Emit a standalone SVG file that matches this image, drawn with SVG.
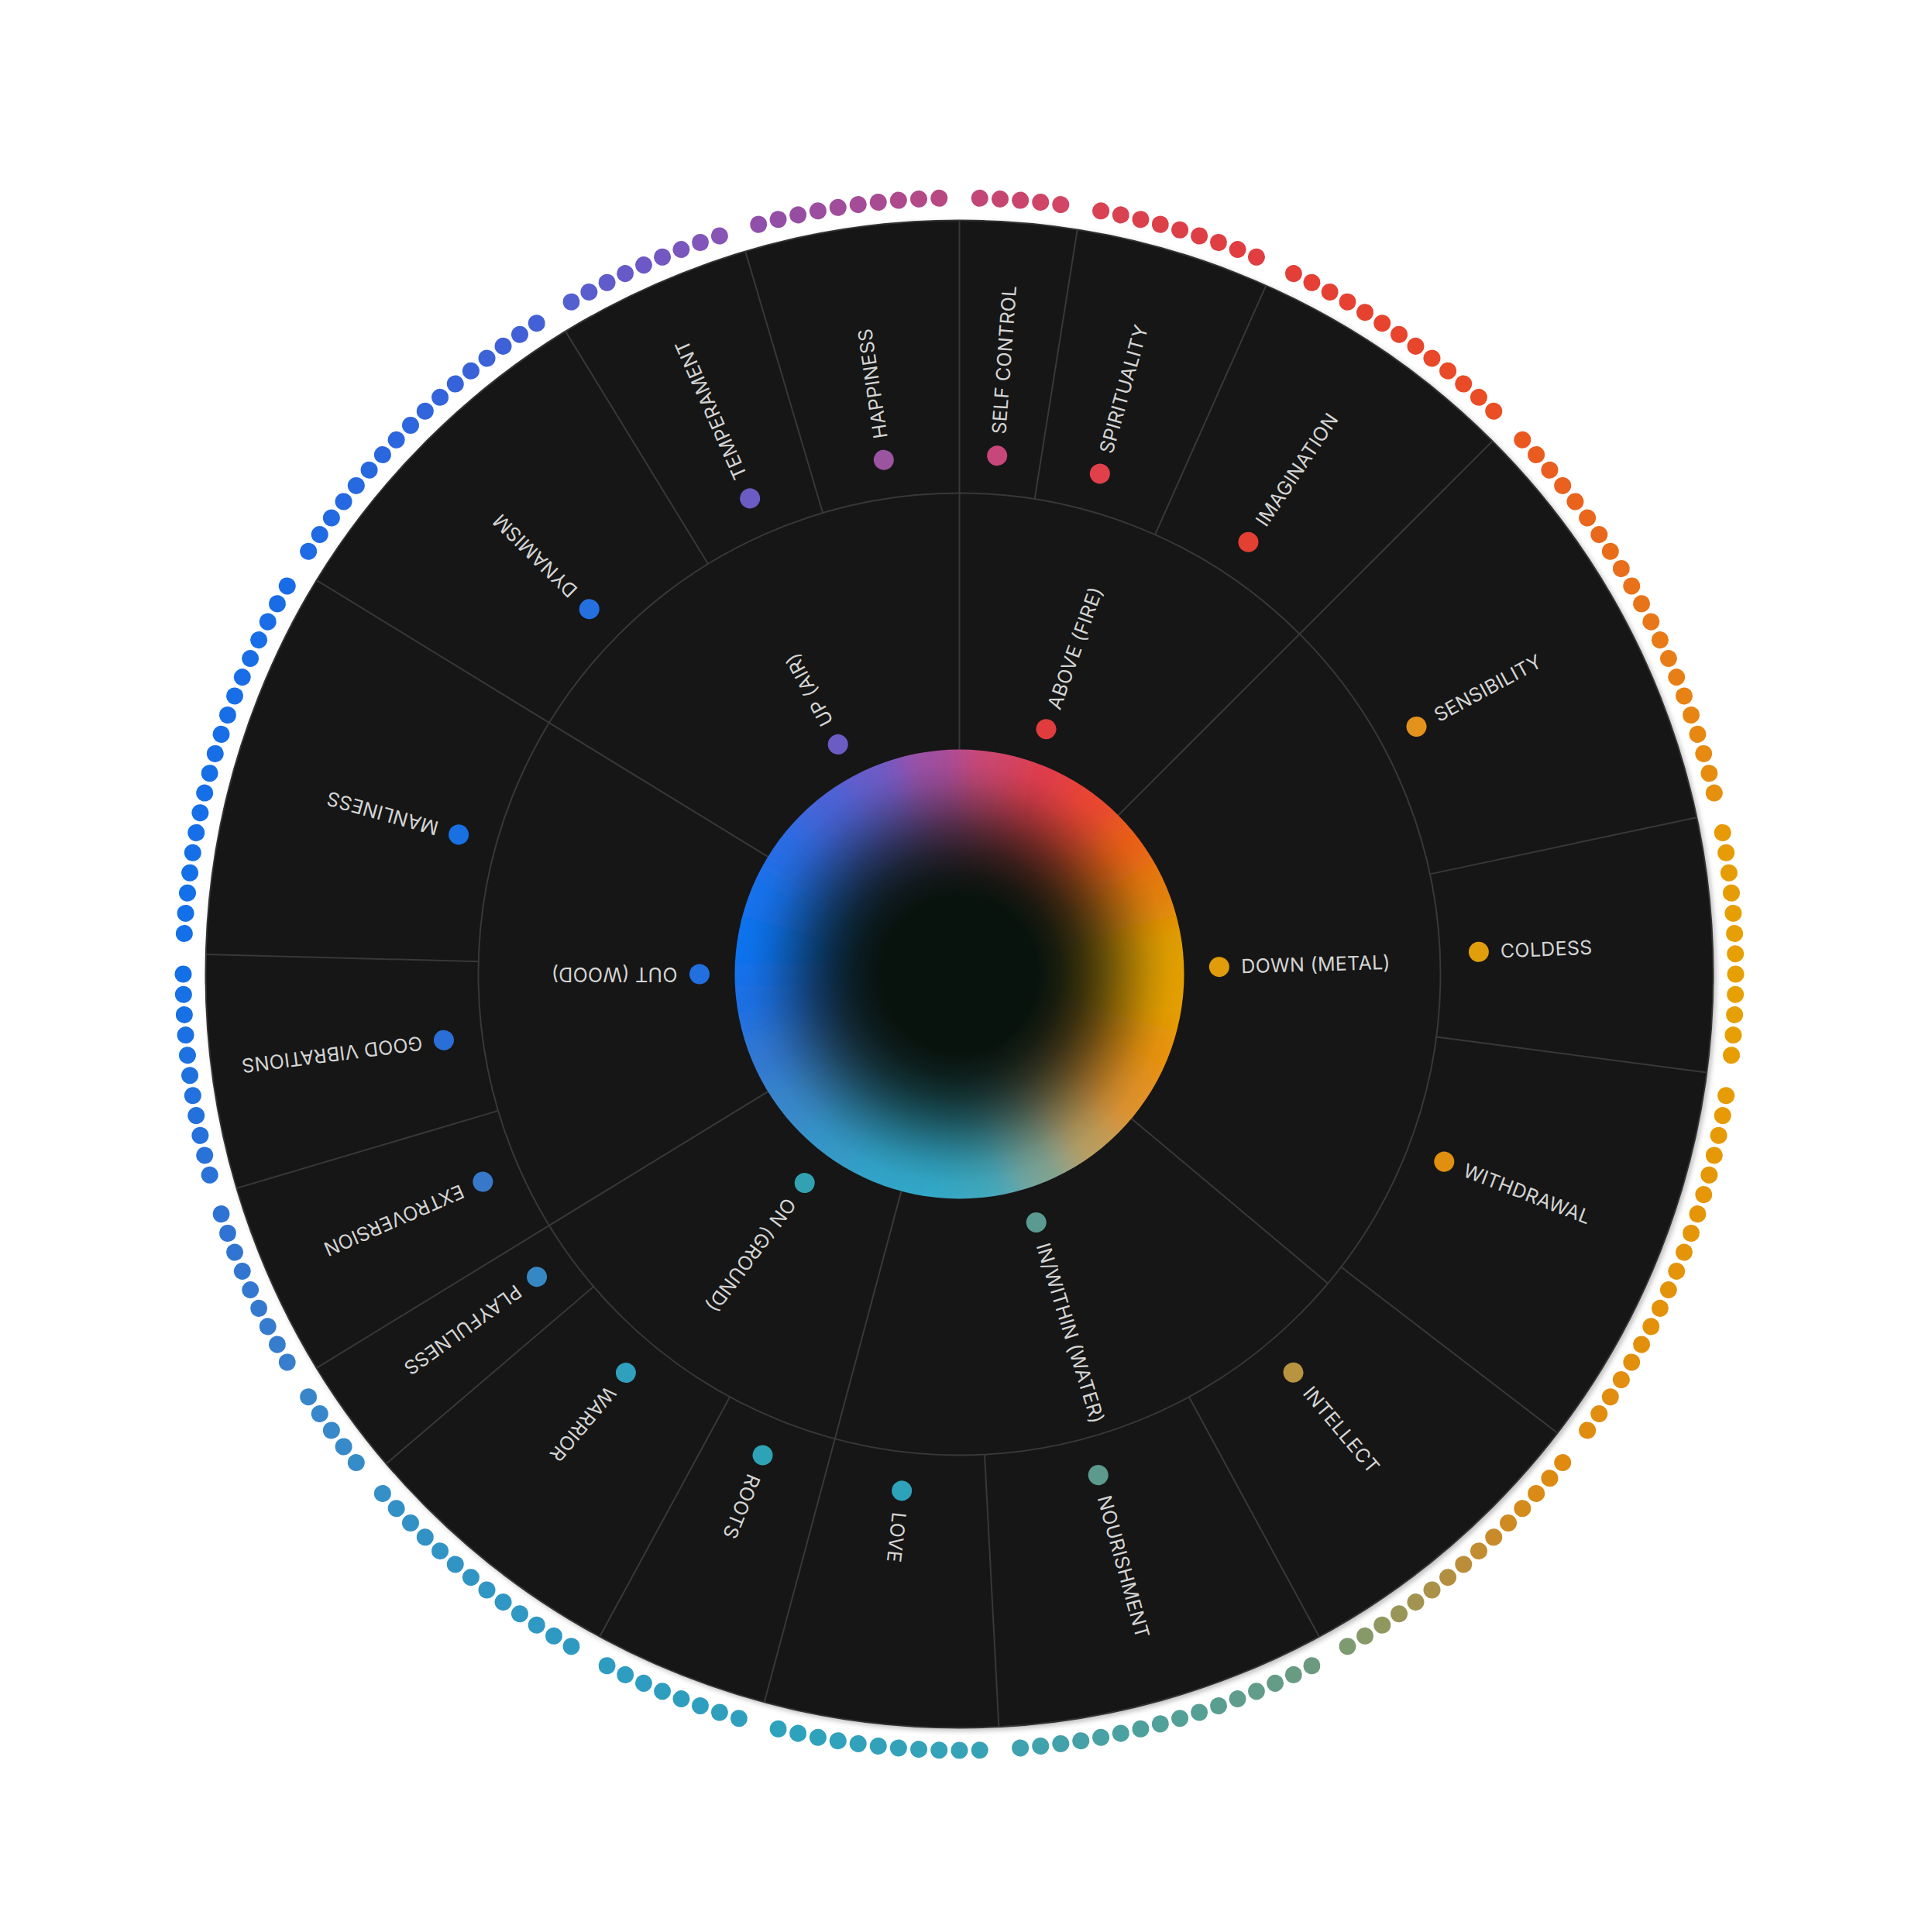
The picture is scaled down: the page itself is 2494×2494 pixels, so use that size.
<svg xmlns="http://www.w3.org/2000/svg" width="2494" height="2494" viewBox="0 0 2494 2494">
<style>
.lbl{font-family:Inter,"Liberation Sans",sans-serif;font-size:25px;fill:#d4d4d4;letter-spacing:0.3px}
.dv{stroke:#383838;stroke-width:2;fill:none}
</style>
<defs>
<circle id="dt" cx="1238.5" cy="255.5" r="11"/>
<clipPath id="sc"><circle cx="1238.5" cy="1257.5" r="290"/></clipPath>
<filter id="bl" x="-20%" y="-20%" width="140%" height="140%"><feGaussianBlur stdDeviation="22"/></filter>
<filter id="sh" x="-5%" y="-5%" width="110%" height="110%"><feDropShadow dx="3" dy="3" stdDeviation="3" flood-color="#000" flood-opacity="0.25"/></filter>
<radialGradient id="dark" cx="0.5" cy="0.5" r="0.5">
<stop offset="0" stop-color="#09130e" stop-opacity="1"/>
<stop offset="0.35" stop-color="#09130e" stop-opacity="1"/>
<stop offset="0.45" stop-color="#09130e" stop-opacity="0.92"/>
<stop offset="0.55" stop-color="#09130e" stop-opacity="0.78"/>
<stop offset="0.65" stop-color="#09130e" stop-opacity="0.58"/>
<stop offset="0.75" stop-color="#09130e" stop-opacity="0.35"/>
<stop offset="0.85" stop-color="#09130e" stop-opacity="0.14"/>
<stop offset="0.93" stop-color="#09130e" stop-opacity="0.03"/>
<stop offset="1" stop-color="#09130e" stop-opacity="0"/>
</radialGradient>
</defs>
<rect width="2494" height="2494" fill="#ffffff"/>

<g id="sunburst-base">
<circle cx="1238.5" cy="1257.5" r="973" fill="#141414" stroke="#333333" stroke-width="2" filter="url(#sh)"/>
<circle cx="1238.5" cy="1257.5" r="621" class="dv"/>
</g>

<g id="connectors" class="dv">
<line x1="1238.5" y1="967.5" x2="1238.5" y2="284.5" transform="rotate(0 1238.5 1257.5)"/>
<line x1="1238.5" y1="967.5" x2="1238.5" y2="284.5" transform="rotate(45 1238.5 1257.5)"/>
<line x1="1238.5" y1="967.5" x2="1238.5" y2="284.5" transform="rotate(195 1238.5 1257.5)"/>
<line x1="1238.5" y1="967.5" x2="1238.5" y2="284.5" transform="rotate(238.5 1238.5 1257.5)"/>
<line x1="1238.5" y1="967.5" x2="1238.5" y2="284.5" transform="rotate(301.5 1238.5 1257.5)"/>
<line x1="1238.5" y1="967.5" x2="1238.5" y2="636.5" transform="rotate(130 1238.5 1257.5)"/>
<line x1="1238.5" y1="636.5" x2="1238.5" y2="284.5" transform="rotate(9 1238.5 1257.5)"/>
<line x1="1238.5" y1="636.5" x2="1238.5" y2="284.5" transform="rotate(24 1238.5 1257.5)"/>
<line x1="1238.5" y1="636.5" x2="1238.5" y2="284.5" transform="rotate(78 1238.5 1257.5)"/>
<line x1="1238.5" y1="636.5" x2="1238.5" y2="284.5" transform="rotate(97.5 1238.5 1257.5)"/>
<line x1="1238.5" y1="636.5" x2="1238.5" y2="284.5" transform="rotate(127.5 1238.5 1257.5)"/>
<line x1="1238.5" y1="636.5" x2="1238.5" y2="284.5" transform="rotate(151.5 1238.5 1257.5)"/>
<line x1="1238.5" y1="636.5" x2="1238.5" y2="284.5" transform="rotate(177 1238.5 1257.5)"/>
<line x1="1238.5" y1="636.5" x2="1238.5" y2="284.5" transform="rotate(208.5 1238.5 1257.5)"/>
<line x1="1238.5" y1="636.5" x2="1238.5" y2="284.5" transform="rotate(229.5 1238.5 1257.5)"/>
<line x1="1238.5" y1="636.5" x2="1238.5" y2="284.5" transform="rotate(253.5 1238.5 1257.5)"/>
<line x1="1238.5" y1="636.5" x2="1238.5" y2="284.5" transform="rotate(271.5 1238.5 1257.5)"/>
<line x1="1238.5" y1="636.5" x2="1238.5" y2="284.5" transform="rotate(328.5 1238.5 1257.5)"/>
<line x1="1238.5" y1="636.5" x2="1238.5" y2="284.5" transform="rotate(343.5 1238.5 1257.5)"/>
</g>

<g id="sphere">
<g clip-path="url(#sc)">
<g filter="url(#bl)" transform="translate(1238.5 1257.5)" stroke-width="3" stroke-linejoin="round">
<polygon points="0,0 0,-420 108.7,-405.7" fill="#cc4670" stroke="#cc4670"/>
<polygon points="0,0 108.7,-405.7 210,-363.7" fill="#e03e4c" stroke="#e03e4c"/>
<polygon points="0,0 210,-363.7 297,-297" fill="#ea4430" stroke="#ea4430"/>
<polygon points="0,0 297,-297 363.7,-210" fill="#ea5e18" stroke="#ea5e18"/>
<polygon points="0,0 363.7,-210 405.7,-108.7" fill="#e47e08" stroke="#e47e08"/>
<polygon points="0,0 405.7,-108.7 420,0" fill="#e09e00" stroke="#e09e00"/>
<polygon points="0,0 420,0 405.7,108.7" fill="#e4a000" stroke="#e4a000"/>
<polygon points="0,0 405.7,108.7 363.7,210" fill="#e89208" stroke="#e89208"/>
<polygon points="0,0 363.7,210 297,297" fill="#e0922a" stroke="#e0922a"/>
<polygon points="0,0 297,297 210,363.7" fill="#bc9e5c" stroke="#bc9e5c"/>
<polygon points="0,0 210,363.7 108.7,405.7" fill="#7ca494" stroke="#7ca494"/>
<polygon points="0,0 108.7,405.7 0,420" fill="#40a8bc" stroke="#40a8bc"/>
<polygon points="0,0 0,420 -108.7,405.7" fill="#30a8c8" stroke="#30a8c8"/>
<polygon points="0,0 -108.7,405.7 -210,363.7" fill="#30a4c8" stroke="#30a4c8"/>
<polygon points="0,0 -210,363.7 -297,297" fill="#3498c8" stroke="#3498c8"/>
<polygon points="0,0 -297,297 -363.7,210" fill="#3888ca" stroke="#3888ca"/>
<polygon points="0,0 -363.7,210 -405.7,108.7" fill="#3278d2" stroke="#3278d2"/>
<polygon points="0,0 -405.7,108.7 -420,0" fill="#1a70e4" stroke="#1a70e4"/>
<polygon points="0,0 -420,0 -405.7,-108.7" fill="#0a73f0" stroke="#0a73f0"/>
<polygon points="0,0 -405.7,-108.7 -363.7,-210" fill="#1272ec" stroke="#1272ec"/>
<polygon points="0,0 -363.7,-210 -297,-297" fill="#2a6ce4" stroke="#2a6ce4"/>
<polygon points="0,0 -297,-297 -210,-363.7" fill="#4864d8" stroke="#4864d8"/>
<polygon points="0,0 -210,-363.7 -108.7,-405.7" fill="#6a5cc8" stroke="#6a5cc8"/>
<polygon points="0,0 -108.7,-405.7 0,-420" fill="#a050a0" stroke="#a050a0"/>
</g>
<circle cx="1238.5" cy="1257.5" r="290" fill="url(#dark)"/>
</g>
</g>

<g id="ring-dots">
<use href="#dt" transform="rotate(1.5 1238.5 1257.5)" fill="#c24678"/>
<use href="#dt" transform="rotate(3 1238.5 1257.5)" fill="#c64672"/>
<use href="#dt" transform="rotate(4.5 1238.5 1257.5)" fill="#ca456c"/>
<use href="#dt" transform="rotate(6 1238.5 1257.5)" fill="#ce4568"/>
<use href="#dt" transform="rotate(7.5 1238.5 1257.5)" fill="#d24564"/>
<use href="#dt" transform="rotate(10.5 1238.5 1257.5)" fill="#d84252"/>
<use href="#dt" transform="rotate(12 1238.5 1257.5)" fill="#d94250"/>
<use href="#dt" transform="rotate(13.5 1238.5 1257.5)" fill="#db414c"/>
<use href="#dt" transform="rotate(15 1238.5 1257.5)" fill="#dc4048"/>
<use href="#dt" transform="rotate(16.5 1238.5 1257.5)" fill="#dd3f46"/>
<use href="#dt" transform="rotate(18 1238.5 1257.5)" fill="#de3f44"/>
<use href="#dt" transform="rotate(19.5 1238.5 1257.5)" fill="#df3e42"/>
<use href="#dt" transform="rotate(21 1238.5 1257.5)" fill="#e03e41"/>
<use href="#dt" transform="rotate(22.5 1238.5 1257.5)" fill="#e03e40"/>
<use href="#dt" transform="rotate(25.5 1238.5 1257.5)" fill="#e43e38"/>
<use href="#dt" transform="rotate(27 1238.5 1257.5)" fill="#e53f36"/>
<use href="#dt" transform="rotate(28.5 1238.5 1257.5)" fill="#e54034"/>
<use href="#dt" transform="rotate(30 1238.5 1257.5)" fill="#e64132"/>
<use href="#dt" transform="rotate(31.5 1238.5 1257.5)" fill="#e64230"/>
<use href="#dt" transform="rotate(33 1238.5 1257.5)" fill="#e7432f"/>
<use href="#dt" transform="rotate(34.5 1238.5 1257.5)" fill="#e8442e"/>
<use href="#dt" transform="rotate(36 1238.5 1257.5)" fill="#e8462c"/>
<use href="#dt" transform="rotate(37.5 1238.5 1257.5)" fill="#e9482a"/>
<use href="#dt" transform="rotate(39 1238.5 1257.5)" fill="#e94a28"/>
<use href="#dt" transform="rotate(40.5 1238.5 1257.5)" fill="#e94b27"/>
<use href="#dt" transform="rotate(42 1238.5 1257.5)" fill="#ea4d25"/>
<use href="#dt" transform="rotate(43.5 1238.5 1257.5)" fill="#ea4e24"/>
<use href="#dt" transform="rotate(46.5 1238.5 1257.5)" fill="#ea5820"/>
<use href="#dt" transform="rotate(48 1238.5 1257.5)" fill="#ea5b1f"/>
<use href="#dt" transform="rotate(49.5 1238.5 1257.5)" fill="#ea5e1f"/>
<use href="#dt" transform="rotate(51 1238.5 1257.5)" fill="#ea601e"/>
<use href="#dt" transform="rotate(52.5 1238.5 1257.5)" fill="#ea631d"/>
<use href="#dt" transform="rotate(54 1238.5 1257.5)" fill="#e9661c"/>
<use href="#dt" transform="rotate(55.5 1238.5 1257.5)" fill="#e9691c"/>
<use href="#dt" transform="rotate(57 1238.5 1257.5)" fill="#e96c1b"/>
<use href="#dt" transform="rotate(58.5 1238.5 1257.5)" fill="#e96e1b"/>
<use href="#dt" transform="rotate(60 1238.5 1257.5)" fill="#e9711a"/>
<use href="#dt" transform="rotate(61.5 1238.5 1257.5)" fill="#e8741a"/>
<use href="#dt" transform="rotate(63 1238.5 1257.5)" fill="#e87719"/>
<use href="#dt" transform="rotate(64.5 1238.5 1257.5)" fill="#e87a18"/>
<use href="#dt" transform="rotate(66 1238.5 1257.5)" fill="#e87c17"/>
<use href="#dt" transform="rotate(67.5 1238.5 1257.5)" fill="#e87f16"/>
<use href="#dt" transform="rotate(69 1238.5 1257.5)" fill="#e78215"/>
<use href="#dt" transform="rotate(70.5 1238.5 1257.5)" fill="#e78514"/>
<use href="#dt" transform="rotate(72 1238.5 1257.5)" fill="#e78813"/>
<use href="#dt" transform="rotate(73.5 1238.5 1257.5)" fill="#e78a12"/>
<use href="#dt" transform="rotate(75 1238.5 1257.5)" fill="#e68d10"/>
<use href="#dt" transform="rotate(76.5 1238.5 1257.5)" fill="#e6900e"/>
<use href="#dt" transform="rotate(79.5 1238.5 1257.5)" fill="#e69a08"/>
<use href="#dt" transform="rotate(81 1238.5 1257.5)" fill="#e69b07"/>
<use href="#dt" transform="rotate(82.5 1238.5 1257.5)" fill="#e69c06"/>
<use href="#dt" transform="rotate(84 1238.5 1257.5)" fill="#e69d05"/>
<use href="#dt" transform="rotate(85.5 1238.5 1257.5)" fill="#e69e05"/>
<use href="#dt" transform="rotate(87 1238.5 1257.5)" fill="#e69f04"/>
<use href="#dt" transform="rotate(88.5 1238.5 1257.5)" fill="#e6a004"/>
<use href="#dt" transform="rotate(90 1238.5 1257.5)" fill="#e6a004"/>
<use href="#dt" transform="rotate(91.5 1238.5 1257.5)" fill="#e6a004"/>
<use href="#dt" transform="rotate(93 1238.5 1257.5)" fill="#e69f04"/>
<use href="#dt" transform="rotate(94.5 1238.5 1257.5)" fill="#e69f04"/>
<use href="#dt" transform="rotate(96 1238.5 1257.5)" fill="#e69e04"/>
<use href="#dt" transform="rotate(99 1238.5 1257.5)" fill="#e69c06"/>
<use href="#dt" transform="rotate(100.5 1238.5 1257.5)" fill="#e69b06"/>
<use href="#dt" transform="rotate(102 1238.5 1257.5)" fill="#e69a06"/>
<use href="#dt" transform="rotate(103.5 1238.5 1257.5)" fill="#e59906"/>
<use href="#dt" transform="rotate(105 1238.5 1257.5)" fill="#e59807"/>
<use href="#dt" transform="rotate(106.5 1238.5 1257.5)" fill="#e59707"/>
<use href="#dt" transform="rotate(108 1238.5 1257.5)" fill="#e59607"/>
<use href="#dt" transform="rotate(109.5 1238.5 1257.5)" fill="#e59508"/>
<use href="#dt" transform="rotate(111 1238.5 1257.5)" fill="#e49408"/>
<use href="#dt" transform="rotate(112.5 1238.5 1257.5)" fill="#e49408"/>
<use href="#dt" transform="rotate(114 1238.5 1257.5)" fill="#e39309"/>
<use href="#dt" transform="rotate(115.5 1238.5 1257.5)" fill="#e3920a"/>
<use href="#dt" transform="rotate(117 1238.5 1257.5)" fill="#e3910b"/>
<use href="#dt" transform="rotate(118.5 1238.5 1257.5)" fill="#e2900c"/>
<use href="#dt" transform="rotate(120 1238.5 1257.5)" fill="#e28f0d"/>
<use href="#dt" transform="rotate(121.5 1238.5 1257.5)" fill="#e28e0e"/>
<use href="#dt" transform="rotate(123 1238.5 1257.5)" fill="#e18d0f"/>
<use href="#dt" transform="rotate(124.5 1238.5 1257.5)" fill="#e18d0f"/>
<use href="#dt" transform="rotate(126 1238.5 1257.5)" fill="#e08c10"/>
<use href="#dt" transform="rotate(129 1238.5 1257.5)" fill="#e08a10"/>
<use href="#dt" transform="rotate(130.5 1238.5 1257.5)" fill="#dd8a13"/>
<use href="#dt" transform="rotate(132 1238.5 1257.5)" fill="#da8a16"/>
<use href="#dt" transform="rotate(133.5 1238.5 1257.5)" fill="#d58a1c"/>
<use href="#dt" transform="rotate(135 1238.5 1257.5)" fill="#d08a22"/>
<use href="#dt" transform="rotate(136.5 1238.5 1257.5)" fill="#c98b29"/>
<use href="#dt" transform="rotate(138 1238.5 1257.5)" fill="#c28c30"/>
<use href="#dt" transform="rotate(139.5 1238.5 1257.5)" fill="#ba8e38"/>
<use href="#dt" transform="rotate(141 1238.5 1257.5)" fill="#b28f40"/>
<use href="#dt" transform="rotate(142.5 1238.5 1257.5)" fill="#aa9248"/>
<use href="#dt" transform="rotate(144 1238.5 1257.5)" fill="#a29450"/>
<use href="#dt" transform="rotate(145.5 1238.5 1257.5)" fill="#999658"/>
<use href="#dt" transform="rotate(147 1238.5 1257.5)" fill="#909860"/>
<use href="#dt" transform="rotate(148.5 1238.5 1257.5)" fill="#879968"/>
<use href="#dt" transform="rotate(150 1238.5 1257.5)" fill="#7e9a70"/>
<use href="#dt" transform="rotate(153 1238.5 1257.5)" fill="#6c9a80"/>
<use href="#dt" transform="rotate(154.5 1238.5 1257.5)" fill="#699b83"/>
<use href="#dt" transform="rotate(156 1238.5 1257.5)" fill="#659c87"/>
<use href="#dt" transform="rotate(157.5 1238.5 1257.5)" fill="#619d8a"/>
<use href="#dt" transform="rotate(159 1238.5 1257.5)" fill="#5e9d8d"/>
<use href="#dt" transform="rotate(160.5 1238.5 1257.5)" fill="#5a9e90"/>
<use href="#dt" transform="rotate(162 1238.5 1257.5)" fill="#569f94"/>
<use href="#dt" transform="rotate(163.5 1238.5 1257.5)" fill="#53a097"/>
<use href="#dt" transform="rotate(165 1238.5 1257.5)" fill="#51a099"/>
<use href="#dt" transform="rotate(166.5 1238.5 1257.5)" fill="#4ea09d"/>
<use href="#dt" transform="rotate(168 1238.5 1257.5)" fill="#4ba1a0"/>
<use href="#dt" transform="rotate(169.5 1238.5 1257.5)" fill="#48a1a4"/>
<use href="#dt" transform="rotate(171 1238.5 1257.5)" fill="#45a1a7"/>
<use href="#dt" transform="rotate(172.5 1238.5 1257.5)" fill="#43a1aa"/>
<use href="#dt" transform="rotate(174 1238.5 1257.5)" fill="#40a2ad"/>
<use href="#dt" transform="rotate(175.5 1238.5 1257.5)" fill="#3ea2b0"/>
<use href="#dt" transform="rotate(178.5 1238.5 1257.5)" fill="#36a2b6"/>
<use href="#dt" transform="rotate(180 1238.5 1257.5)" fill="#35a2b7"/>
<use href="#dt" transform="rotate(181.5 1238.5 1257.5)" fill="#34a2b8"/>
<use href="#dt" transform="rotate(183 1238.5 1257.5)" fill="#34a2b8"/>
<use href="#dt" transform="rotate(184.5 1238.5 1257.5)" fill="#33a2b9"/>
<use href="#dt" transform="rotate(186 1238.5 1257.5)" fill="#32a2ba"/>
<use href="#dt" transform="rotate(187.5 1238.5 1257.5)" fill="#31a2ba"/>
<use href="#dt" transform="rotate(189 1238.5 1257.5)" fill="#30a2bb"/>
<use href="#dt" transform="rotate(190.5 1238.5 1257.5)" fill="#2fa2bb"/>
<use href="#dt" transform="rotate(192 1238.5 1257.5)" fill="#2ea2bc"/>
<use href="#dt" transform="rotate(193.5 1238.5 1257.5)" fill="#2ea2bc"/>
<use href="#dt" transform="rotate(196.5 1238.5 1257.5)" fill="#2ea0be"/>
<use href="#dt" transform="rotate(198 1238.5 1257.5)" fill="#2ea0be"/>
<use href="#dt" transform="rotate(199.5 1238.5 1257.5)" fill="#2e9fbe"/>
<use href="#dt" transform="rotate(201 1238.5 1257.5)" fill="#2e9ebf"/>
<use href="#dt" transform="rotate(202.5 1238.5 1257.5)" fill="#2e9ebf"/>
<use href="#dt" transform="rotate(204 1238.5 1257.5)" fill="#2e9dc0"/>
<use href="#dt" transform="rotate(205.5 1238.5 1257.5)" fill="#2e9dc0"/>
<use href="#dt" transform="rotate(207 1238.5 1257.5)" fill="#2e9cc0"/>
<use href="#dt" transform="rotate(210 1238.5 1257.5)" fill="#2e9ac2"/>
<use href="#dt" transform="rotate(211.5 1238.5 1257.5)" fill="#2e99c2"/>
<use href="#dt" transform="rotate(213 1238.5 1257.5)" fill="#2f98c3"/>
<use href="#dt" transform="rotate(214.5 1238.5 1257.5)" fill="#2f98c3"/>
<use href="#dt" transform="rotate(216 1238.5 1257.5)" fill="#3097c4"/>
<use href="#dt" transform="rotate(217.5 1238.5 1257.5)" fill="#3096c4"/>
<use href="#dt" transform="rotate(219 1238.5 1257.5)" fill="#3195c4"/>
<use href="#dt" transform="rotate(220.5 1238.5 1257.5)" fill="#3194c5"/>
<use href="#dt" transform="rotate(222 1238.5 1257.5)" fill="#3293c5"/>
<use href="#dt" transform="rotate(223.5 1238.5 1257.5)" fill="#3292c5"/>
<use href="#dt" transform="rotate(225 1238.5 1257.5)" fill="#3391c6"/>
<use href="#dt" transform="rotate(226.5 1238.5 1257.5)" fill="#3390c6"/>
<use href="#dt" transform="rotate(228 1238.5 1257.5)" fill="#3490c6"/>
<use href="#dt" transform="rotate(231 1238.5 1257.5)" fill="#368cc8"/>
<use href="#dt" transform="rotate(232.5 1238.5 1257.5)" fill="#368ac9"/>
<use href="#dt" transform="rotate(234 1238.5 1257.5)" fill="#3789c9"/>
<use href="#dt" transform="rotate(235.5 1238.5 1257.5)" fill="#3787ca"/>
<use href="#dt" transform="rotate(237 1238.5 1257.5)" fill="#3886ca"/>
<use href="#dt" transform="rotate(240 1238.5 1257.5)" fill="#387ecc"/>
<use href="#dt" transform="rotate(241.5 1238.5 1257.5)" fill="#377dcd"/>
<use href="#dt" transform="rotate(243 1238.5 1257.5)" fill="#367bce"/>
<use href="#dt" transform="rotate(244.5 1238.5 1257.5)" fill="#3579cf"/>
<use href="#dt" transform="rotate(246 1238.5 1257.5)" fill="#3378d0"/>
<use href="#dt" transform="rotate(247.5 1238.5 1257.5)" fill="#3276d1"/>
<use href="#dt" transform="rotate(249 1238.5 1257.5)" fill="#3175d2"/>
<use href="#dt" transform="rotate(250.5 1238.5 1257.5)" fill="#3073d3"/>
<use href="#dt" transform="rotate(252 1238.5 1257.5)" fill="#2e72d4"/>
<use href="#dt" transform="rotate(255 1238.5 1257.5)" fill="#2a72d8"/>
<use href="#dt" transform="rotate(256.5 1238.5 1257.5)" fill="#2872d9"/>
<use href="#dt" transform="rotate(258 1238.5 1257.5)" fill="#2671db"/>
<use href="#dt" transform="rotate(259.5 1238.5 1257.5)" fill="#2471dc"/>
<use href="#dt" transform="rotate(261 1238.5 1257.5)" fill="#2271de"/>
<use href="#dt" transform="rotate(262.5 1238.5 1257.5)" fill="#1f71df"/>
<use href="#dt" transform="rotate(264 1238.5 1257.5)" fill="#1d71e1"/>
<use href="#dt" transform="rotate(265.5 1238.5 1257.5)" fill="#1b70e3"/>
<use href="#dt" transform="rotate(267 1238.5 1257.5)" fill="#1870e5"/>
<use href="#dt" transform="rotate(268.5 1238.5 1257.5)" fill="#1670e6"/>
<use href="#dt" transform="rotate(270 1238.5 1257.5)" fill="#1470e8"/>
<use href="#dt" transform="rotate(273 1238.5 1257.5)" fill="#1470e8"/>
<use href="#dt" transform="rotate(274.5 1238.5 1257.5)" fill="#1470e8"/>
<use href="#dt" transform="rotate(276 1238.5 1257.5)" fill="#1470e8"/>
<use href="#dt" transform="rotate(277.5 1238.5 1257.5)" fill="#1570e8"/>
<use href="#dt" transform="rotate(279 1238.5 1257.5)" fill="#1570e8"/>
<use href="#dt" transform="rotate(280.5 1238.5 1257.5)" fill="#166fe8"/>
<use href="#dt" transform="rotate(282 1238.5 1257.5)" fill="#166fe8"/>
<use href="#dt" transform="rotate(283.5 1238.5 1257.5)" fill="#166fe7"/>
<use href="#dt" transform="rotate(285 1238.5 1257.5)" fill="#176fe7"/>
<use href="#dt" transform="rotate(286.5 1238.5 1257.5)" fill="#176ee7"/>
<use href="#dt" transform="rotate(288 1238.5 1257.5)" fill="#186ee7"/>
<use href="#dt" transform="rotate(289.5 1238.5 1257.5)" fill="#186ee7"/>
<use href="#dt" transform="rotate(291 1238.5 1257.5)" fill="#186ee7"/>
<use href="#dt" transform="rotate(292.5 1238.5 1257.5)" fill="#196de6"/>
<use href="#dt" transform="rotate(294 1238.5 1257.5)" fill="#196de6"/>
<use href="#dt" transform="rotate(295.5 1238.5 1257.5)" fill="#196de6"/>
<use href="#dt" transform="rotate(297 1238.5 1257.5)" fill="#1a6de6"/>
<use href="#dt" transform="rotate(298.5 1238.5 1257.5)" fill="#1a6ce6"/>
<use href="#dt" transform="rotate(300 1238.5 1257.5)" fill="#1a6ce6"/>
<use href="#dt" transform="rotate(303 1238.5 1257.5)" fill="#1e6be4"/>
<use href="#dt" transform="rotate(304.5 1238.5 1257.5)" fill="#206ae3"/>
<use href="#dt" transform="rotate(306 1238.5 1257.5)" fill="#226ae2"/>
<use href="#dt" transform="rotate(307.5 1238.5 1257.5)" fill="#2469e1"/>
<use href="#dt" transform="rotate(309 1238.5 1257.5)" fill="#2669e0"/>
<use href="#dt" transform="rotate(310.5 1238.5 1257.5)" fill="#2868df"/>
<use href="#dt" transform="rotate(312 1238.5 1257.5)" fill="#2a67de"/>
<use href="#dt" transform="rotate(313.5 1238.5 1257.5)" fill="#2c66de"/>
<use href="#dt" transform="rotate(315 1238.5 1257.5)" fill="#2e66dd"/>
<use href="#dt" transform="rotate(316.5 1238.5 1257.5)" fill="#3165dc"/>
<use href="#dt" transform="rotate(318 1238.5 1257.5)" fill="#3364db"/>
<use href="#dt" transform="rotate(319.5 1238.5 1257.5)" fill="#3663da"/>
<use href="#dt" transform="rotate(321 1238.5 1257.5)" fill="#3962d9"/>
<use href="#dt" transform="rotate(322.5 1238.5 1257.5)" fill="#3c62d8"/>
<use href="#dt" transform="rotate(324 1238.5 1257.5)" fill="#3e61d7"/>
<use href="#dt" transform="rotate(325.5 1238.5 1257.5)" fill="#4160d7"/>
<use href="#dt" transform="rotate(327 1238.5 1257.5)" fill="#4460d6"/>
<use href="#dt" transform="rotate(330 1238.5 1257.5)" fill="#5460d0"/>
<use href="#dt" transform="rotate(331.5 1238.5 1257.5)" fill="#5a5ecd"/>
<use href="#dt" transform="rotate(333 1238.5 1257.5)" fill="#605ccb"/>
<use href="#dt" transform="rotate(334.5 1238.5 1257.5)" fill="#665ac8"/>
<use href="#dt" transform="rotate(336 1238.5 1257.5)" fill="#6c58c6"/>
<use href="#dt" transform="rotate(337.5 1238.5 1257.5)" fill="#7357c2"/>
<use href="#dt" transform="rotate(339 1238.5 1257.5)" fill="#7a56be"/>
<use href="#dt" transform="rotate(340.5 1238.5 1257.5)" fill="#8155ba"/>
<use href="#dt" transform="rotate(342 1238.5 1257.5)" fill="#8854b6"/>
<use href="#dt" transform="rotate(345 1238.5 1257.5)" fill="#9050aa"/>
<use href="#dt" transform="rotate(346.5 1238.5 1257.5)" fill="#934fa6"/>
<use href="#dt" transform="rotate(348 1238.5 1257.5)" fill="#974ea2"/>
<use href="#dt" transform="rotate(349.5 1238.5 1257.5)" fill="#9b4e9f"/>
<use href="#dt" transform="rotate(351 1238.5 1257.5)" fill="#a04d9b"/>
<use href="#dt" transform="rotate(352.5 1238.5 1257.5)" fill="#a44c97"/>
<use href="#dt" transform="rotate(354 1238.5 1257.5)" fill="#a94b92"/>
<use href="#dt" transform="rotate(355.5 1238.5 1257.5)" fill="#ae4a8c"/>
<use href="#dt" transform="rotate(357 1238.5 1257.5)" fill="#b34987"/>
<use href="#dt" transform="rotate(358.5 1238.5 1257.5)" fill="#b84882"/>
</g>

<g id="inner-labels" class="lbl">
<g id="node-up-air" transform="translate(1238.5 1257.5) rotate(242.14)"><circle cx="335.5" cy="0" r="13" fill="#6a5cc4"/><text x="364" y="9">UP (AIR)</text></g>
<g id="node-above-fire" transform="translate(1238.5 1257.5) rotate(-70.5)"><circle cx="335.5" cy="0" r="13" fill="#e03c3e"/><text x="364" y="9">ABOVE (FIRE)</text></g>
<g id="node-down-metal" transform="translate(1238.5 1257.5) rotate(-1.6)"><circle cx="335.5" cy="0" r="13" fill="#e09c0a"/><text x="364" y="9">DOWN (METAL)</text></g>
<g id="node-in-within-water" transform="translate(1238.5 1257.5) rotate(72.8)"><circle cx="335.5" cy="0" r="13" fill="#5a9a90"/><text x="364" y="9">IN/WITHIN (WATER)</text></g>
<g id="node-on-ground" transform="translate(1238.5 1257.5) rotate(126.55)"><circle cx="335.5" cy="0" r="13" fill="#32a2b2"/><text x="364" y="9">ON (GROUND)</text></g>
<g id="node-out-wood" transform="translate(1238.5 1257.5) rotate(180)"><circle cx="335.5" cy="0" r="13" fill="#2270e0"/><text x="364" y="9">OUT (WOOD)</text></g>
</g>

<g id="outer-labels" class="lbl">
<g id="node-self-control" transform="translate(1238.5 1257.5) rotate(-85.84)"><circle cx="671" cy="0" r="13" fill="#c8477a"/><text x="699" y="9">SELF CONTROL</text></g>
<g id="node-spirituality" transform="translate(1238.5 1257.5) rotate(-74.32)"><circle cx="671" cy="0" r="13" fill="#e0404a"/><text x="699" y="9">SPIRITUALITY</text></g>
<g id="node-imagination" transform="translate(1238.5 1257.5) rotate(-56.23)"><circle cx="671" cy="0" r="13" fill="#e33f33"/><text x="699" y="9">IMAGINATION</text></g>
<g id="node-sensibility" transform="translate(1238.5 1257.5) rotate(-28.44)"><circle cx="671" cy="0" r="13" fill="#e3931c"/><text x="699" y="9">SENSIBILITY</text></g>
<g id="node-coldess" transform="translate(1238.5 1257.5) rotate(-2.45)"><circle cx="671" cy="0" r="13" fill="#e09e0c"/><text x="699" y="9">COLDESS</text></g>
<g id="node-withdrawal" transform="translate(1238.5 1257.5) rotate(21.15)"><circle cx="671" cy="0" r="13" fill="#e0900e"/><text x="699" y="9">WITHDRAWAL</text></g>
<g id="node-intellect" transform="translate(1238.5 1257.5) rotate(50.03)"><circle cx="671" cy="0" r="13" fill="#b89440"/><text x="699" y="9">INTELLECT</text></g>
<g id="node-nourishment" transform="translate(1238.5 1257.5) rotate(74.51)"><circle cx="671" cy="0" r="13" fill="#5c9a8e"/><text x="699" y="9">NOURISHMENT</text></g>
<g id="node-love" transform="translate(1238.5 1257.5) rotate(96.36)"><circle cx="671" cy="0" r="13" fill="#2ea2b8"/><text x="699" y="9">LOVE</text></g>
<g id="node-roots" transform="translate(1238.5 1257.5) rotate(112.24)"><circle cx="671" cy="0" r="13" fill="#2ea2b6"/><text x="699" y="9">ROOTS</text></g>
<g id="node-warrior" transform="translate(1238.5 1257.5) rotate(129.92)"><circle cx="671" cy="0" r="13" fill="#30a0be"/><text x="699" y="9">WARRIOR</text></g>
<g id="node-playfulness" transform="translate(1238.5 1257.5) rotate(144.38)"><circle cx="671" cy="0" r="13" fill="#3688c4"/><text x="699" y="9">PLAYFULNESS</text></g>
<g id="node-extroversion" transform="translate(1238.5 1257.5) rotate(156.46)"><circle cx="671" cy="0" r="13" fill="#3878c8"/><text x="699" y="9">EXTROVERSION</text></g>
<g id="node-good-vibrations" transform="translate(1238.5 1257.5) rotate(172.7)"><circle cx="671" cy="0" r="13" fill="#2a6ed8"/><text x="699" y="9">GOOD VIBRATIONS</text></g>
<g id="node-manliness" transform="translate(1238.5 1257.5) rotate(195.57)"><circle cx="671" cy="0" r="13" fill="#1870e2"/><text x="699" y="9">MANLINESS</text></g>
<g id="node-dynamism" transform="translate(1238.5 1257.5) rotate(224.6)"><circle cx="671" cy="0" r="13" fill="#2470e0"/><text x="699" y="9">DYNAMISM</text></g>
<g id="node-temperament" transform="translate(1238.5 1257.5) rotate(246.24)"><circle cx="671" cy="0" r="13" fill="#6a5cc2"/><text x="699" y="9">TEMPERAMENT</text></g>
<g id="node-happiness" transform="translate(1238.5 1257.5) rotate(261.63)"><circle cx="671" cy="0" r="13" fill="#9a54a0"/><text x="699" y="9">HAPPINESS</text></g>
</g>
</svg>
